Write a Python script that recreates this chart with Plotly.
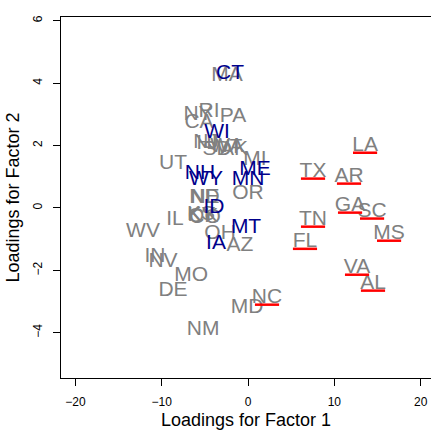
import plotly.graph_objects as go

# State loadings on the first two factors
states = ["CT", "MA", "NY", "RI", "PA", "CA", "WI", "NJ", "SD", "VT", "AK", "WA",
          "MI", "UT", "NH", "WY", "ME", "MN", "OR", "NE", "ND", "KS", "CO", "KY",
          "ID", "IL", "WV", "OH", "OK", "MT", "IA", "AZ", "IN", "NV", "HI", "MO",
          "DE", "NM", "MD", "NC", "LA", "TX", "AR", "GA", "SC", "TN", "MS", "FL",
          "VA", "AL"]
factor1 = [-2.09, -2.43, -5.79, -4.52, -1.74, -5.68, -3.59, -4.87, -3.59, -2.20, -1.62, -2.45,
           0.81, -8.69, -5.56, -4.87, 0.81, 0.00, 0.00, -4.98, -5.05, -5.45, -4.98, -5.40,
           -3.94, -8.46, -12.17, -3.24, -5.20, -0.23, -3.71, -0.93, -10.78, -9.85, -4.75, -6.60,
           -8.69, -5.21, -0.12, 2.20, 13.56, 7.53, 11.70, 11.82, 14.37, 7.53, 16.34, 6.60,
           12.63, 14.48]
factor2 = [4.30, 4.23, 2.99, 3.08, 2.92, 2.73, 2.41, 2.09, 1.86, 1.93, 1.86, 1.95,
           1.54, 1.41, 1.09, 0.90, 1.22, 0.90, 0.45, 0.32, 0.32, -0.22, -0.32, -0.24,
           0.00, -0.38, -0.77, -0.83, -0.28, -0.64, -1.15, -1.21, -1.57, -1.73, 2.05, -2.18,
           -2.66, -3.91, -3.20, -2.88, 1.99, 1.16, 1.00, 0.07, -0.12, -0.38, -0.83, -1.09,
           -1.92, -2.43]

# Highlighted groups
blue_states = ["CT", "WI", "NH", "WY", "ME", "MN", "ID", "MT", "IA"]
south_states = ["NC", "LA", "TX", "AR", "GA", "SC", "TN", "MS", "FL", "VA", "AL"]

x_ticks = [-20, -10, 0, 10, 20]
y_ticks = [-4, -2, 0, 2, 4, 6]

FONT = "Liberation Sans, Arial, Helvetica, sans-serif"
GRAY = "#808080"
NAVY = "#00008B"

pos = {s: (a, b) for s, a, b in zip(states, factor1, factor2)}
gray_s = [s for s in states if s not in blue_states]
blue_s = [s for s in states if s in blue_states]

fig = go.Figure()

fig.add_trace(go.Scatter(
    x=[pos[s][0] for s in gray_s], y=[pos[s][1] for s in gray_s],
    text=gray_s, mode="text", textposition="middle center",
    textfont=dict(family=FONT, size=21, color=GRAY), hoverinfo="skip",
))
fig.add_trace(go.Scatter(
    x=[pos[s][0] for s in blue_s], y=[pos[s][1] for s in blue_s],
    text=blue_s, mode="text", textposition="middle center",
    textfont=dict(family=FONT, size=21, color=NAVY), hoverinfo="skip",
))

# Red underline beneath each southern state label
ux, uy = [], []
half_w, drop = 1.4, 0.22
for s in south_states:
    a, b = pos[s]
    ux += [a - half_w, a + half_w, None]
    uy += [b - drop, b - drop, None]
fig.add_trace(go.Scatter(
    x=ux, y=uy, mode="lines", line=dict(color="#FF0000", width=2.5),
    hoverinfo="skip",
))

axis_common = dict(
    showgrid=False, zeroline=False, showline=True, linecolor="black", linewidth=1,
    ticks="outside", ticklen=7, tickwidth=1, tickcolor="black",
    tickfont=dict(family=FONT, size=12, color="black"),
)

fig.update_xaxes(
    range=[-21.67, 21.2], tickvals=x_ticks, mirror=True,
    title=dict(text="Loadings for Factor 1", font=dict(family=FONT, size=18, color="black"),
               standoff=4),
    ticklabelstandoff=6,
    **axis_common,
)
fig.update_yaxes(
    range=[-5.45, 6.12], tickvals=y_ticks, tickangle=-90,
    title=dict(text="Loadings for Factor 2", font=dict(family=FONT, size=18, color="black"),
               standoff=6),
    ticklabelstandoff=6,
    **axis_common,
)

fig.update_layout(
    width=431, height=432,
    margin=dict(l=61, r=0, t=17, b=54, autoexpand=False),
    paper_bgcolor="white", plot_bgcolor="white",
    showlegend=False,
)

fig.write_html("out.html")
